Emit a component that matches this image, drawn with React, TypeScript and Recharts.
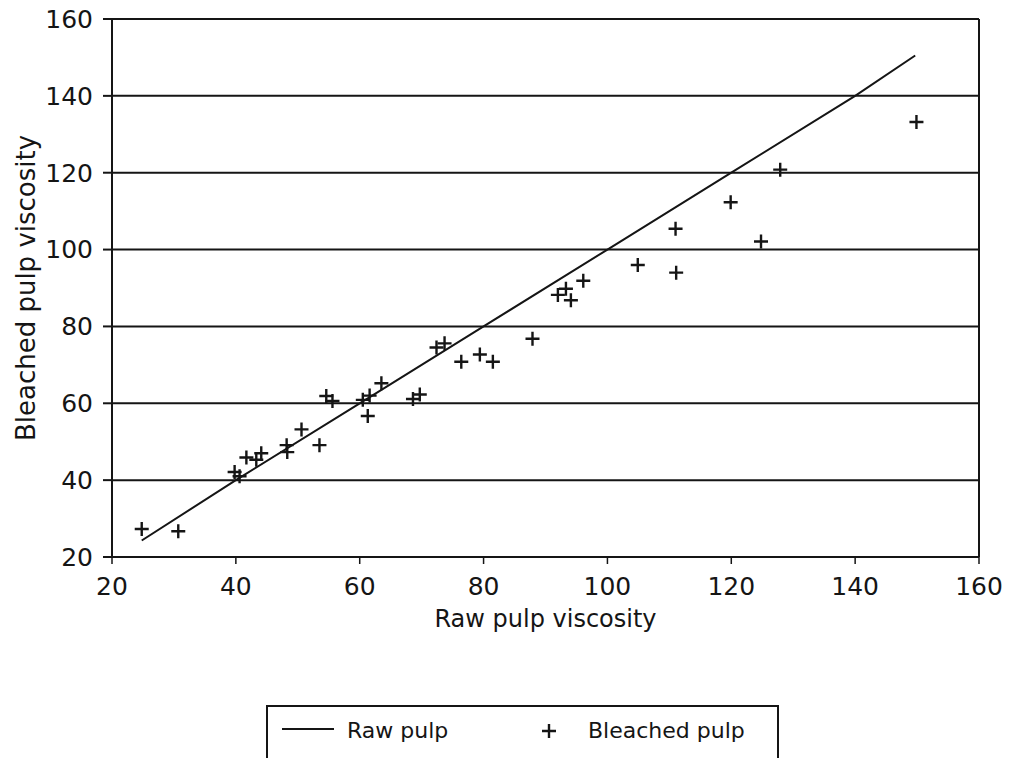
import React from "react";
import {
  ComposedChart,
  Line,
  Scatter,
  XAxis,
  YAxis,
  CartesianGrid,
  ReferenceLine,
} from "recharts";

// values
const rawLineX = [24.8, 40, 60, 80, 100, 120, 140, 149.7];
const rawLineY = [24.3, 40, 60, 80, 100, 120, 140, 150.5];

const bleachedX = [
  24.8, 30.7, 39.8, 40.6, 41.7, 43.3, 44.1, 48.2, 48.3, 50.6, 53.5, 54.6,
  55.6, 60.5, 61.6, 61.3, 63.5, 68.6, 69.7, 72.4, 73.7, 76.4, 79.4, 81.5,
  87.9, 92.0, 93.3, 94.1, 96.1, 104.9, 111.1, 111.0, 119.9, 124.8, 127.9,
  149.9,
];
const bleachedY = [
  27.3, 26.7, 42.1, 41.0, 45.9, 45.3, 47.0, 49.1, 47.3, 53.2, 49.1, 61.9,
  60.6, 60.9, 62.0, 56.7, 65.2, 61.1, 62.3, 74.5, 75.6, 70.8, 72.7, 70.8,
  76.8, 88.2, 89.8, 86.8, 91.9, 96.0, 94.0, 105.4, 112.3, 102.1, 120.8,
  133.2,
];

const axisTicks = [20, 40, 60, 80, 100, 120, 140, 160];

const rawLine = rawLineX.map((x, i) => ({ x, y: rawLineY[i] }));
const bleached = bleachedX.map((x, i) => ({ x, y: bleachedY[i] }));

const INK = "#151515";
const FONT = "'DejaVu Sans', sans-serif";

const PlusMark = (props: any) => {
  const { cx, cy } = props;
  if (cx == null || cy == null) return null;
  const r = 7;
  return (
    <path
      d={`M${cx - r},${cy}H${cx + r}M${cx},${cy - r}V${cy + r}`}
      stroke={INK}
      strokeWidth={2.4}
      fill="none"
    />
  );
};

export default function App() {
  return (
    <div
      style={{
        position: "absolute",
        left: 0,
        top: 0,
        width: 1012,
        height: 758,
        overflow: "hidden",
        background: "#fff",
        fontFamily: FONT,
      }}
    >
      <ComposedChart
        width={1012}
        height={758}
        margin={{ top: 19, right: 33, bottom: 161, left: 12 }}
      >
        <CartesianGrid
          vertical={false}
          stroke={INK}
          strokeWidth={2}
          horizontalValues={axisTicks}
        />
        <XAxis
          type="number"
          dataKey="x"
          domain={[20, 160]}
          ticks={axisTicks}
          allowDecimals={false}
          height={40}
          tickSize={7}
          tickMargin={13}
          axisLine={{ stroke: INK, strokeWidth: 2 }}
          tickLine={{ stroke: INK, strokeWidth: 1.5 }}
          tick={{ fill: INK, fontSize: 25, fontFamily: FONT }}
          label={{
            value: "Raw pulp viscosity",
            position: "bottom",
            offset: 13,
            fill: INK,
            fontSize: 24,
            fontFamily: FONT,
          }}
        />
        <YAxis
          type="number"
          dataKey="y"
          domain={[20, 160]}
          ticks={axisTicks}
          width={100}
          tickSize={9}
          tickMargin={10}
          axisLine={{ stroke: INK, strokeWidth: 2 }}
          tickLine={{ stroke: INK, strokeWidth: 2 }}
          tick={{ fill: INK, fontSize: 25, fontFamily: FONT }}
          label={{
            value: "Bleached pulp viscosity",
            angle: -90,
            position: "insideLeft",
            offset: 14,
            fill: INK,
            fontSize: 26,
            fontFamily: FONT,
            style: { textAnchor: "middle" },
          }}
        />
        <ReferenceLine x={160} stroke={INK} strokeWidth={2} />
        <Line
          data={rawLine}
          dataKey="y"
          type="linear"
          stroke={INK}
          strokeWidth={2}
          dot={false}
          activeDot={false}
          isAnimationActive={false}
          name="Raw pulp"
        />
        <Scatter
          data={bleached}
          dataKey="y"
          shape={PlusMark}
          isAnimationActive={false}
          name="Bleached pulp"
        />
      </ComposedChart>

      <div
        style={{
          position: "absolute",
          left: 266,
          top: 705,
          width: 513,
          height: 70,
          border: `2px solid ${INK}`,
          boxSizing: "border-box",
        }}
      >
        <svg width={509} height={66} style={{ display: "block" }}>
          <line x1={14} y1={22} x2={66} y2={22} stroke={INK} strokeWidth={1.8} />
          <text x={79} y={31} fontSize={22} fontFamily={FONT} fill={INK}>
            Raw pulp
          </text>
          <path d="M274,24H288M281,17V31" stroke={INK} strokeWidth={2.4} />
          <text x={320} y={31} fontSize={22} fontFamily={FONT} fill={INK}>
            Bleached pulp
          </text>
        </svg>
      </div>
    </div>
  );
}
